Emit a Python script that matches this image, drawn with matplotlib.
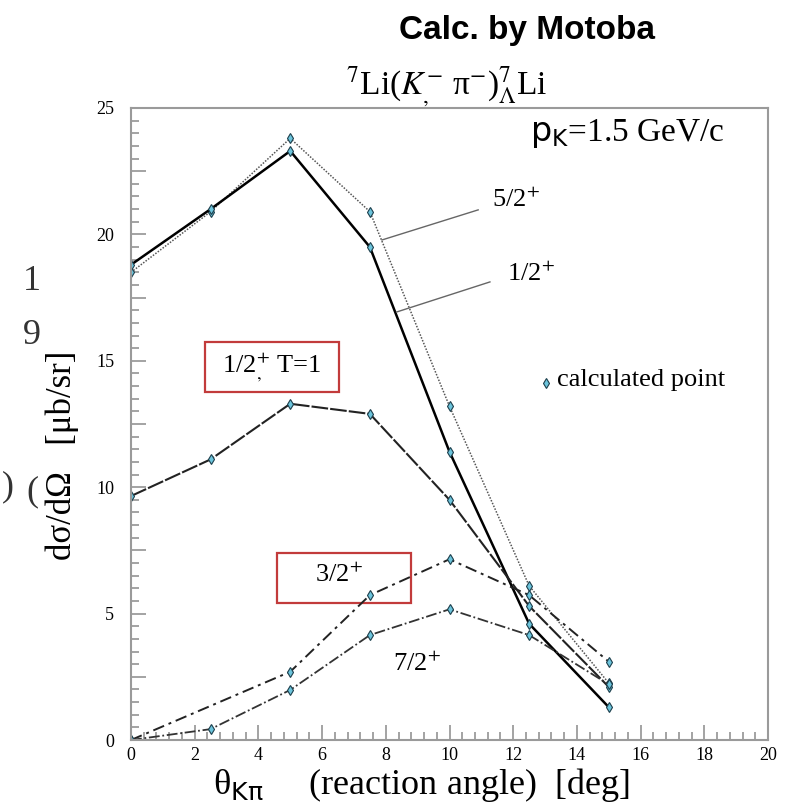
import matplotlib
matplotlib.use("Agg")
import matplotlib.pyplot as plt
from matplotlib.ticker import MultipleLocator, FuncFormatter
from matplotlib.patches import Rectangle

plt.rcParams["font.family"] = ["Liberation Serif", "DejaVu Serif"]
plt.rcParams["mathtext.fontset"] = "stix"

# angles [deg]
angle = [0, 2.5, 5, 7.5, 10, 12.5, 15]
angle_32 = [0, 5, 7.5, 10, 12.5, 15]

# cross sections [ub/sr]
xs_52 = [18.5, 20.9, 23.8, 20.9, 13.2, 6.1, 2.25]
xs_12 = [18.8, 21.0, 23.3, 19.5, 11.4, 4.6, 1.3]
xs_12_t1 = [9.65, 11.1, 13.3, 12.9, 9.5, 5.3, 2.1]
xs_32 = [0.0, 2.7, 5.73, 7.15, 5.73, 3.1]
xs_72 = [0.0, 0.43, 1.98, 4.15, 5.17, 4.15, 2.2]

W, H = 796, 805
fig = plt.figure(figsize=(W / 100, H / 100), dpi=100)
ax = fig.add_axes([131 / W, 65 / H, 637 / W, 632 / H])


def fx(px):
    return px / W


def fy(py):
    return 1 - py / H


mk = dict(marker="d", markersize=5.5, markerfacecolor="#6cc4dc",
          markeredgecolor="#1d3f4c", markeredgewidth=0.8)

ax.plot(angle, xs_52, color="#555555", lw=1.1, ls=(0, (1, 1)), **mk)
ax.plot(angle, xs_12, color="black", lw=1.8, ls="-", **mk)
ax.plot(angle, xs_12_t1, color="#222222", lw=1.5, ls=(0, (8, 1)), **mk)
ax.plot(angle_32, xs_32, color="#222222", lw=1.4, ls=(0, (6, 2.5, 1.5, 2.5)), **mk)
ax.plot(angle, xs_72, color="#333333", lw=1.3, ls=(0, (6, 1.5, 1, 1.5)), **mk)

ax.set_xlim(0, 20)
ax.set_ylim(0, 25)

for s in ax.spines.values():
    s.set_color("#9a9a9a")
    s.set_linewidth(1.5)

ax.xaxis.set_major_locator(MultipleLocator(2))
ax.xaxis.set_minor_locator(MultipleLocator(0.4))
ax.yaxis.set_major_locator(MultipleLocator(2.5))
ax.yaxis.set_minor_locator(MultipleLocator(0.5))
ax.yaxis.set_major_formatter(FuncFormatter(
    lambda v, p: "%d" % v if abs(v % 5) < 1e-6 else ""))
ax.tick_params(which="both", direction="in", color="#8a8a8a", width=1.1,
               labelsize=13, top=False, right=False)
ax.tick_params(which="major", length=11)
ax.tick_params(which="minor", length=6)
ax.tick_params(axis="x", pad=5)
ax.tick_params(axis="y", pad=12)

# leader lines and state labels
ax.plot([7.88, 10.9], [19.78, 20.97], color="#666666", lw=1)
ax.plot([8.34, 11.27], [16.93, 18.12], color="#666666", lw=1)
ax.text(11.33, 21.36, r"5/2$^{+}$", fontsize=19, va="center", ha="left")
ax.text(11.8, 18.43, r"1/2$^{+}$", fontsize=19, va="center", ha="left")
ax.text(8.98, 3.0, r"7/2$^{+}$", fontsize=19, va="center", ha="center")

# boxed labels
red = "#c23b3b"
ax.add_patch(Rectangle((2.32, 13.77), 4.21, 1.97, fill=False, ec=red, lw=1.6))
ax.text(4.43, 14.75, r"1/2$^{+}_{,}$ T=1", fontsize=19, va="center", ha="center")
ax.add_patch(Rectangle((4.58, 5.42), 4.21, 1.98, fill=False, ec=red, lw=1.6))
ax.text(6.53, 6.53, r"3/2$^{+}$", fontsize=19, va="center", ha="center")

# legend
ax.plot([13.03], [14.12], ls="none", **mk)
ax.text(13.38, 14.25, "calculated point", fontsize=19, va="center", ha="left")

ax.text(12.53, 24.0, r"$\mathrm{p}_{\mathrm{K}}$=1.5 GeV/c", fontsize=24,
        math_fontfamily="dejavusans", va="center", ha="left")

# titles
fig.text(fx(527), fy(30), "Calc. by Motoba", fontsize=24, fontweight="bold",
         family="Liberation Sans", ha="center", va="center")
fig.text(fx(447), fy(87), r"$^{7}$Li($K^{-}_{,}$ π$^{-}$)$^{7}_{\Lambda}$Li",
         fontsize=24, ha="center", va="center")

# axis labels
fig.text(fx(213), fy(785), r"θ$_{\mathrm{K\pi}}$     (reaction angle)  [deg]",
         fontsize=26, math_fontfamily="dejavusans", ha="left", va="center")
fig.text(fx(62), fy(455), "dσ/dΩ   [μb/sr]", fontsize=25, rotation=90,
         ha="center", va="center")

# stray glyphs from the slide underneath
fig.text(fx(32), fy(281), "1", fontsize=26, ha="center", va="center", color="#333333")
fig.text(fx(32), fy(335), "9", fontsize=26, ha="center", va="center", color="#333333")
fig.text(fx(32), fy(492), "(", fontsize=26, ha="center", va="center", color="#333333")
fig.text(fx(8), fy(487), ")", fontsize=26, ha="center", va="center", color="#333333")

fig.savefig("out.png", dpi=100, facecolor="white")
